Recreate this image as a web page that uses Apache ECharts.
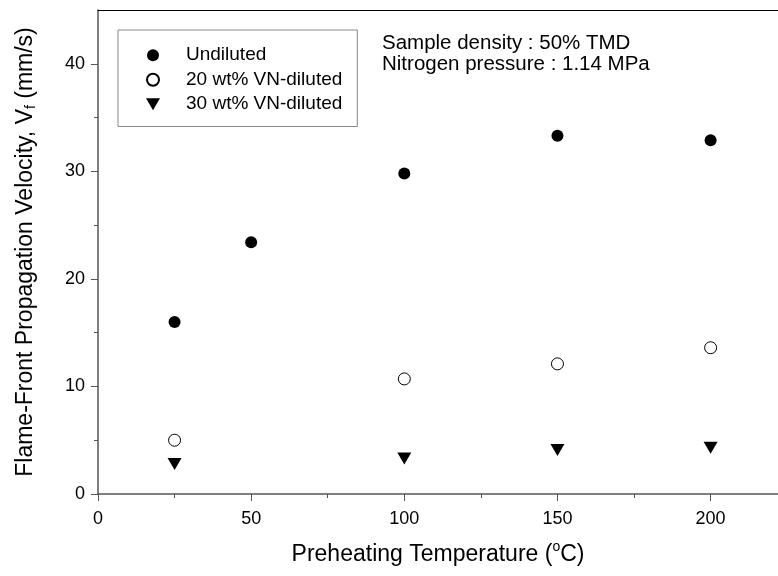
<!DOCTYPE html>
<html>
<head>
<meta charset="utf-8">
<style>
  html, body { margin: 0; padding: 0; background: #fff; }
  #main { width: 778px; height: 576px; }
</style>
<script src="https://cdn.jsdelivr.net/npm/echarts@6/dist/echarts.min.js"></script>
</head>
<body>
<div id="main"></div>
<script>
// data
var temps = [25, 50, 100, 150, 200];
var undiluted = [16.0, 23.4, 29.8, 33.3, 32.9];
var dilTemps = [25, 100, 150, 200];
var vn20 = [5.0, 10.7, 12.1, 13.6];
var vn30 = [2.8, 3.3, 4.1, 4.3];

var xMajor = [0, 50, 100, 150, 200];
var xMinor = [25, 75, 125, 175];
var yMajor = [0, 10, 20, 30, 40];
var yMinor = [5, 15, 25, 35];

var font = '"Liberation Sans", Arial, sans-serif';
var axisColor = '#555';
var downTriangle = 'path://M0,0L14,0L7,12Z';

function pairs(xs, ys) {
	return xs.map(function (x, i) { return [x, ys[i]]; });
}

var chart = echarts.init(document.getElementById('main'));

var option = {
	backgroundColor: '#fff',
	animation: false,
	textStyle: { fontFamily: font, color: '#000' },
	grid: { left: 98, top: 10, right: 0, bottom: 82 },
	legend: {
		left: 118,
		top: 30,
		orient: 'vertical',
		itemWidth: 14,
		itemHeight: 12,
		itemGap: 0,
		padding: [13, 15, 10, 28],
		borderColor: '#888',
		borderWidth: 1,
		selectedMode: false,
		textStyle: { fontSize: 19, color: '#000', lineHeight: 24.5, padding: [0, 0, 0, 21], fontFamily: font },
		data: ['Undiluted', '20 wt% VN-diluted', '30 wt% VN-diluted']
	},
	xAxis: [
		{
			type: 'value',
			min: 0,
			max: 222,
			interval: 50,
			position: 'bottom',
			name: 'Preheating Temperature ({sup|o}C)',
			nameLocation: 'middle',
			nameGap: 46,
			nameTextStyle: {
				fontSize: 23, color: '#000', fontFamily: font,
				rich: { sup: { fontSize: 14, padding: [0, 0, 16, 0], fontFamily: font, color: '#000' } }
			},
			splitLine: { show: false },
			axisLine: { lineStyle: { color: axisColor, width: 1.5 } },
			axisTick: { customValues: xMajor, length: 7, lineStyle: { color: axisColor } },
			axisLabel: { customValues: xMajor, margin: 16, fontSize: 18, color: '#000', fontFamily: font }
		},
		{
			type: 'value',
			min: 0,
			max: 222,
			interval: 25,
			position: 'bottom',
			splitLine: { show: false },
			axisLine: { show: false },
			axisTick: { customValues: xMinor, length: 4, lineStyle: { color: axisColor } },
			axisLabel: { show: false }
		},
		{
			type: 'value',
			min: 0,
			max: 222,
			position: 'top',
			splitLine: { show: false },
			axisLine: { lineStyle: { color: '#000', width: 1 } },
			axisTick: { show: false },
			axisLabel: { show: false }
		}
	],
	yAxis: [
		{
			type: 'value',
			min: 0,
			max: 45,
			interval: 10,
			position: 'left',
			name: 'Flame-Front Propagation Velocity, V{sub|f} (mm/s)',
			nameLocation: 'middle',
			nameGap: 60,
			nameTextStyle: {
				fontSize: 23, color: '#000', fontFamily: font,
				rich: { sub: { fontSize: 14, padding: [10, 0, 0, 0], fontFamily: font, color: '#000' } }
			},
			splitLine: { show: false },
			axisLine: { lineStyle: { color: axisColor, width: 1.5 } },
			axisTick: { customValues: yMajor, length: 7, lineStyle: { color: axisColor } },
			axisLabel: { customValues: yMajor, margin: 13, fontSize: 18, color: '#000', fontFamily: font }
		},
		{
			type: 'value',
			min: 0,
			max: 45,
			interval: 5,
			position: 'left',
			splitLine: { show: false },
			axisLine: { show: false },
			axisTick: { customValues: yMinor, length: 4, lineStyle: { color: axisColor } },
			axisLabel: { show: false }
		}
	],
	series: [
		{
			name: 'Undiluted',
			type: 'scatter',
			symbol: 'circle',
			symbolSize: 12,
			itemStyle: { color: '#000', opacity: 1 },
			data: pairs(temps, undiluted)
		},
		{
			name: '20 wt% VN-diluted',
			type: 'scatter',
			symbol: 'circle',
			symbolSize: 12,
			itemStyle: { color: '#fff', borderColor: '#000', borderWidth: 1, opacity: 1 },
			data: pairs(dilTemps, vn20)
		},
		{
			name: '30 wt% VN-diluted',
			type: 'scatter',
			symbol: downTriangle,
			symbolSize: [14, 12],
			itemStyle: { color: '#000', opacity: 1 },
			data: pairs(dilTemps, vn30)
		}
	],
	graphic: [
		{
			type: 'text',
			left: 382,
			top: 33,
			style: {
				text: 'Sample density : 50% TMD\nNitrogen pressure : 1.14 MPa',
				fontSize: 20.5,
				lineHeight: 21,
				fontFamily: font,
				fill: '#000'
			}
		}
	]
};

chart.setOption(option);
</script>
</body>
</html>
